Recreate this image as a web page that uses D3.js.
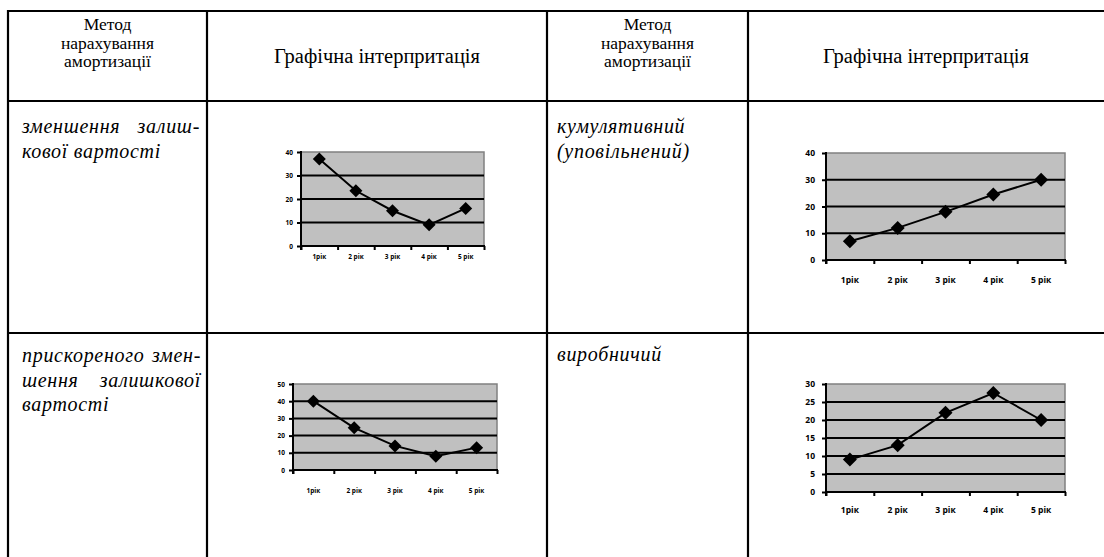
<!DOCTYPE html>
<html>
<head>
<meta charset="utf-8">
<script src="https://cdn.jsdelivr.net/npm/d3@7"></script>
<style>
  body { margin: 0; background: #fff; }
  svg { display: block; }
  .tick-lbl { font-family: "Open Sans", "Liberation Sans", sans-serif; font-weight: bold; }
</style>
</head>
<body>
<div id="chart"></div>
<script>
// Data
const years = ["1рік", "2 рік", "3 рік", "4 рік", "5 рік"];
const reducingBalance = [37, 23.5, 15, 9, 16];
const cumulative = [7, 12, 18, 24.5, 30];
const acceleratedReducing = [40, 24.5, 14, 8, 13];
const production = [9, 13, 22, 27.5, 20];

const ticks40 = [0, 10, 20, 30, 40];
const ticks50 = [0, 10, 20, 30, 40, 50];
const ticks30 = [0, 5, 10, 15, 20, 25, 30];

const headerMethod = ["Метод", "нарахування", "амортизації"];
const headerGraph = "Графічна інтерпритація";

const width = 1104, height = 557;
const serif = "'Liberation Serif', Tinos, 'Times New Roman', Times, 'Noto Serif', 'DejaVu Serif', serif";

const svg = d3.select("#chart")
    .append("svg")
    .attr("width", width)
    .attr("height", height);

// Table grid
const colX = [8, 207, 547, 748];
const rowY = [11, 101, 333];

rowY.forEach(y => {
    svg.append("line")
        .attr("x1", colX[0] - 1).attr("x2", width)
        .attr("y1", y).attr("y2", y)
        .attr("stroke", "#000").attr("stroke-width", 2.2);
});
colX.forEach(x => {
    svg.append("line")
        .attr("x1", x).attr("x2", x)
        .attr("y1", rowY[0] - 1).attr("y2", height)
        .attr("stroke", "#000").attr("stroke-width", 2.2);
});

// Header texts
[107.5, 647.5].forEach(cx => {
    headerMethod.forEach((t, i) => {
        svg.append("text")
            .style("font-family", serif)
            .style("font-size", "17.5px")
            .attr("x", cx).attr("y", 30 + i * 18.5)
            .attr("text-anchor", "middle")
            .text(t);
    });
});
[377, 926].forEach(cx => {
    svg.append("text")
        .style("font-family", serif)
        .style("font-size", "20.5px")
        .attr("x", cx).attr("y", 63)
        .attr("text-anchor", "middle")
        .text(headerGraph);
});

// Method cells (justified lines get first words left, last word right)
function cellText(x, right, y0, lines, justify) {
    lines.forEach((line, i) => {
        const y = y0 + i * 24.5;
        const words = line.split(" ");
        const parts = justify[i] && words.length > 1
            ? [[words.slice(0, -1).join(" "), x, "start"], [words[words.length - 1], right, "end"]]
            : [[line, x, "start"]];
        parts.forEach(([t, px, anchor]) => {
            svg.append("text")
                .style("font-family", serif)
                .style("font-size", "20px")
                .style("font-style", "italic")
                .style("letter-spacing", "0.7px")
                .attr("x", px).attr("y", y)
                .attr("text-anchor", anchor)
                .text(t);
        });
    });
}
cellText(22, 200, 133, ["зменшення залиш-", "кової вартості"], [true, false]);
cellText(557, 740, 133, ["кумулятивний", "(уповільнений)"], [false, false]);
cellText(22, 201, 362, ["прискореного змен-", "шення залишкової", "вартості"], [true, true, false]);
cellText(557, 740, 361, ["виробничий"], [false]);

// Charts
const panels = [
    {values: reducingBalance, ticks: ticks40, x0: 301, x1: 484, y0: 152, y1: 246, font: 6.5, lblGap: 15, marker: 6.5, yLblGap: 8},
    {values: cumulative, ticks: ticks40, x0: 826, x1: 1065, y0: 153, y1: 260, font: 8.5, lblGap: 25, marker: 7, yLblGap: 11},
    {values: acceleratedReducing, ticks: ticks50, x0: 293, x1: 497, y0: 384, y1: 470, font: 6.5, lblGap: 25, marker: 6.5, yLblGap: 8},
    {values: production, ticks: ticks30, x0: 826, x1: 1065, y0: 384, y1: 492, font: 8.5, lblGap: 23, marker: 7, yLblGap: 11}
];

panels.forEach(p => {
    const g = svg.append("g");

    const xScale = d3.scaleBand()
        .domain(years)
        .range([p.x0, p.x1])
        .padding(0);

    const xEdges = d3.scaleLinear()
        .domain([0, years.length])
        .range([p.x0, p.x1]);

    const yScale = d3.scaleLinear()
        .domain([0, d3.max(p.ticks)])
        .range([p.y1, p.y0]);

    // Plot area
    g.append("rect")
        .attr("x", p.x0).attr("y", p.y0)
        .attr("width", p.x1 - p.x0).attr("height", p.y1 - p.y0)
        .attr("fill", "#c0c0c0")
        .attr("stroke", "#808080")
        .attr("stroke-width", 1.5);

    // Gridlines
    g.selectAll(".grid")
        .data(p.ticks.slice(1, -1))
        .join("line")
        .attr("x1", p.x0).attr("x2", p.x1)
        .attr("y1", d => yScale(d)).attr("y2", d => yScale(d))
        .attr("stroke", "#000").attr("stroke-width", 2);

    // Y axis
    const yAxis = g.append("g")
        .attr("transform", `translate(${p.x0},0)`)
        .call(d3.axisLeft(yScale).tickValues(p.ticks).tickSize(4).tickPadding(p.yLblGap - 4));
    yAxis.select(".domain").attr("stroke", "#000").attr("stroke-width", 2)
        .attr("d", `M0,${p.y0 - 1}V${p.y1 + 4}`);
    yAxis.selectAll(".tick line").attr("stroke", "#000").attr("stroke-width", 2).attr("x1", 1);
    yAxis.selectAll(".tick text").attr("class", "tick-lbl").style("font-size", p.font + "px").attr("fill", "#000");

    // X axis: tick marks at band edges, labels in band centres
    const xTicks = g.append("g")
        .attr("transform", `translate(0,${p.y1})`)
        .call(d3.axisBottom(xEdges).ticks(years.length).tickSize(4).tickFormat(""));
    xTicks.select(".domain").attr("stroke", "#000").attr("stroke-width", 2)
        .attr("d", `M${p.x0 - 1},0H${p.x1 + 1}`);
    xTicks.selectAll(".tick line").attr("stroke", "#000").attr("stroke-width", 2);

    const xLabels = g.append("g")
        .attr("transform", `translate(0,${p.y1})`)
        .call(d3.axisBottom(xScale).tickSize(0).tickPadding(p.lblGap - p.font));
    xLabels.select(".domain").remove();
    xLabels.selectAll(".tick text").attr("class", "tick-lbl").style("font-size", p.font + "px").attr("fill", "#000");

    // Line
    const line = d3.line()
        .x((d, i) => xScale(years[i]) + xScale.bandwidth() / 2)
        .y(d => yScale(d));

    g.append("path")
        .datum(p.values)
        .attr("d", line)
        .attr("fill", "none")
        .attr("stroke", "#000")
        .attr("stroke-width", 2);

    // Diamond markers
    const diamond = d3.symbol().type(d3.symbolSquare).size(2 * p.marker * p.marker);
    g.selectAll(".mk")
        .data(p.values)
        .join("path")
        .attr("d", diamond)
        .attr("transform", (d, i) => `translate(${xScale(years[i]) + xScale.bandwidth() / 2},${yScale(d)}) rotate(45)`)
        .attr("fill", "#000");
});
</script>
</body>
</html>
